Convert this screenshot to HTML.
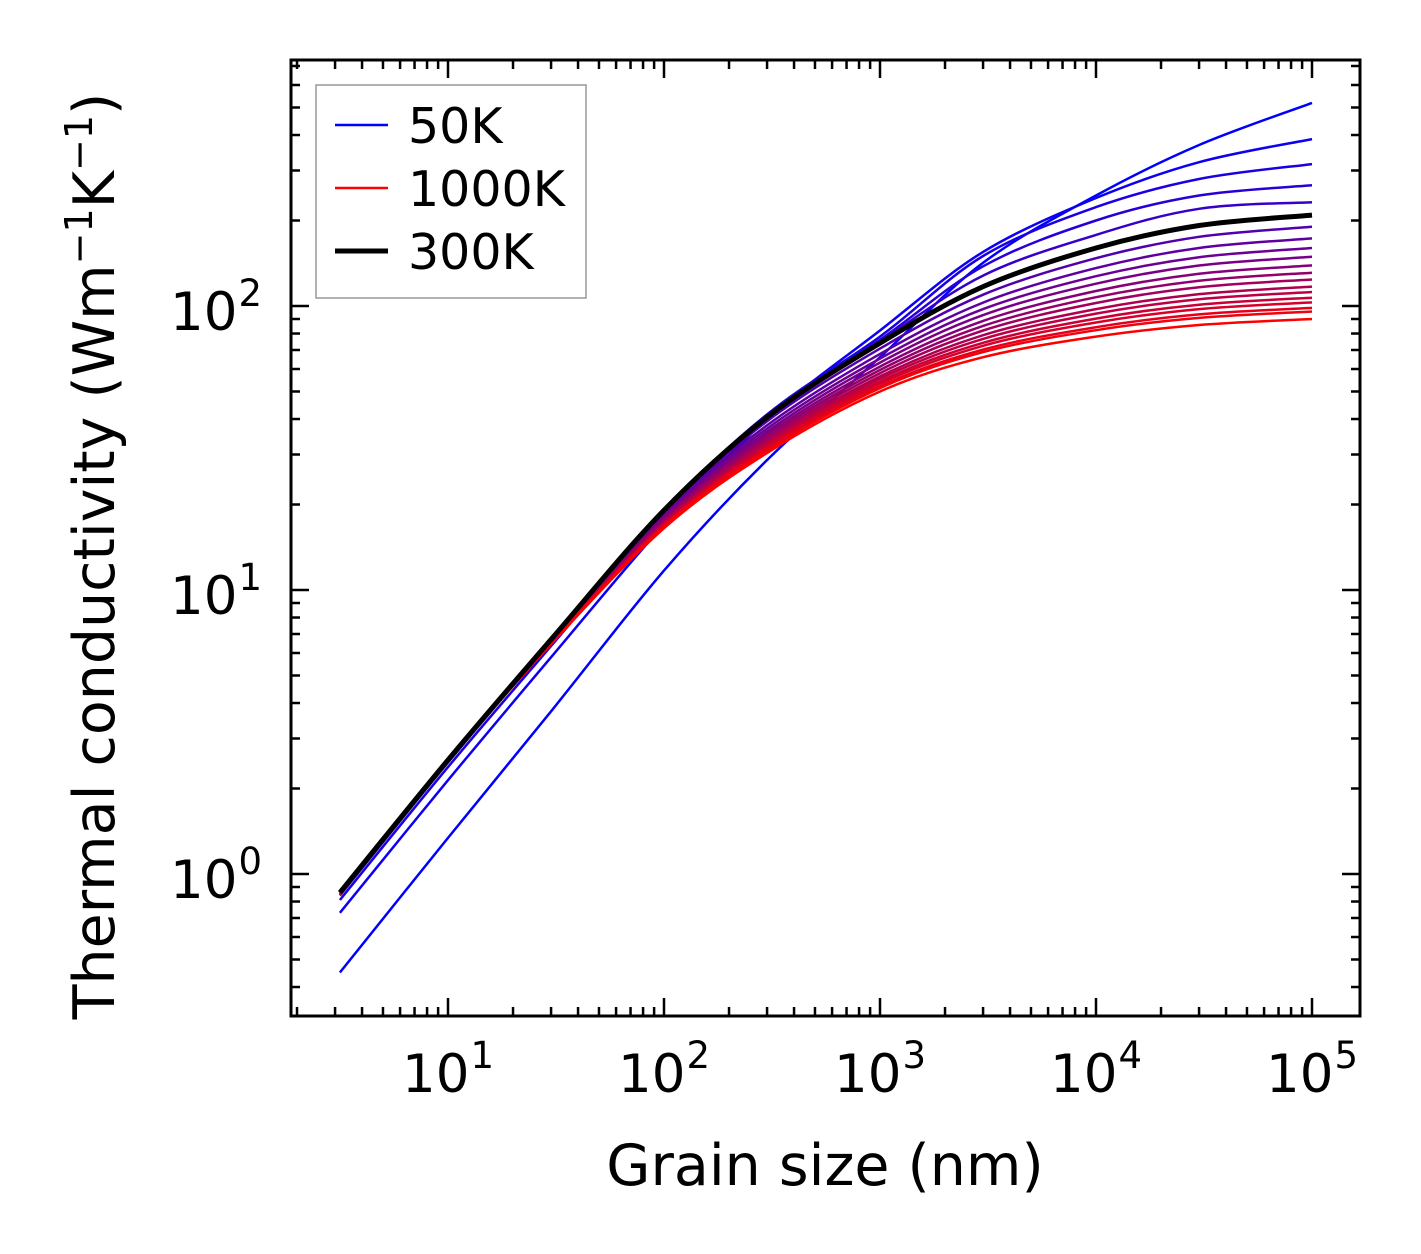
<!DOCTYPE html>
<html><head><meta charset="utf-8"><style>
html,body{margin:0;padding:0;background:#fff}
svg{display:block;font-family:"DejaVu Sans","Liberation Sans",sans-serif}
</style></head><body>
<svg id="chart" width="1421" height="1254" viewBox="0 0 1421 1254" xmlns="http://www.w3.org/2000/svg">
<rect width="1421" height="1254" fill="#fff"/>
<g id="series"></g>
<g id="ticks"></g>
<rect x="291" y="60" width="1069" height="956" fill="none" stroke="#000" stroke-width="3"/>
<g id="labels"></g>
<text x="825" y="1185" font-size="57" text-anchor="middle">Grain size (nm)</text>
<text transform="translate(114,556) rotate(-90)" font-size="57" text-anchor="middle">Thermal conductivity (Wm<tspan font-size="38" dy="-22">−1</tspan><tspan dy="22">K</tspan><tspan font-size="38" dy="-22">−1</tspan><tspan dy="22">)</tspan></text>
<g>
<rect x="316" y="85" width="270" height="213" fill="#fff" stroke="#999" stroke-width="1.5"/>
<line x1="335" y1="125" x2="388" y2="125" stroke="#0000ff" stroke-width="2.5"/>
<text x="408" y="143" font-size="49">50K</text>
<line x1="335" y1="188" x2="388" y2="188" stroke="#ff0000" stroke-width="2.5"/>
<text x="408" y="206" font-size="49">1000K</text>
<line x1="335" y1="251" x2="388" y2="251" stroke="#000" stroke-width="5"/>
<text x="408" y="269" font-size="49">300K</text>
</g>
</svg>
<script>
const grainSizes=[3.16,10,30,100,300,1000,3000,1e4,3e4,1e5];
const temperatures=[50,100,150,200,250,300,350,400,450,500,550,600,650,700,750,800,850,900,950,1000];
const k50=[0.45,1.34,3.74,11.7,28.7,66,142,245,369,519];
const k100=[0.73,2.14,5.8,17,40,82,155,240,321,387];
const k150=[0.81,2.38,6.35,18.4,41.5,78,150,223,280,316];
const k200=[0.84,2.47,6.6,18.9,41.5,76,138,200,245,266];
const k250=[0.86,2.5,6.7,19,41,75,128,178,220,232];
const k300=[0.86,2.52,6.7,19.1,40.6,74,117,160,192,209];
const k350=[0.86,2.52,6.68,18.8,39.3,70.8,109.6,147.3,175.2,190];
const k400=[0.86,2.52,6.66,18.5,38.0,67.8,102.8,136.0,160.1,173];
const k450=[0.86,2.51,6.63,18.2,37.0,65.3,97.5,127.3,148.5,160];
const k500=[0.86,2.51,6.61,18.0,36.1,63.2,92.9,119.8,138.9,149];
const k550=[0.86,2.51,6.59,17.8,35.3,61.2,88.6,112.9,129.9,139];
const k600=[0.85,2.51,6.57,17.6,34.6,59.5,85.1,107.4,122.7,131];
const k650=[0.85,2.51,6.55,17.4,33.9,58.0,82.0,102.5,116.5,124];
const k700=[0.85,2.51,6.53,17.3,33.3,56.5,78.9,97.5,110.1,117];
const k750=[0.85,2.5,6.52,17.1,32.8,55.4,76.6,94.0,105.7,112];
const k800=[0.85,2.5,6.5,17.0,32.3,54.2,74.2,90.3,101.1,107];
const k850=[0.85,2.5,6.49,16.9,31.8,53.2,72.4,87.5,97.5,103];
const k900=[0.85,2.5,6.48,16.8,31.3,52.1,70.2,84.2,93.4,98.5];
const k950=[0.85,2.5,6.47,16.7,31.0,51.4,68.8,82.2,90.8,95.6];
const k1000=[0.85,2.5,6.45,16.5,30.4,50,66,78,85.7,90];
const seriesValues=[k50,k100,k150,k200,k250,k300,k350,k400,k450,k500,k550,k600,k650,k700,k750,k800,k850,k900,k950,k1000];
const xTickLabels=["1","2","3","4","5"];
const yTickLabels=["0","1","2"];

const NS="http://www.w3.org/2000/svg";
const X0=448,XD=216,Y0=874,YD=284;
function xs(v){return X0+(Math.log10(v)-1)*XD;}
function ys(v){return Y0-Math.log10(v)*YD;}
function mk(tag,attrs,parent){const e=document.createElementNS(NS,tag);for(const k in attrs)e.setAttribute(k,attrs[k]);parent.appendChild(e);return e;}

const sg=document.getElementById('series');
function pathFor(vals){
  const p=grainSizes.map((g,i)=>[xs(g),ys(vals[i])]);
  let d="M"+p[0][0].toFixed(1)+","+p[0][1].toFixed(1);
  for(let i=0;i<p.length-1;i++){
    const p0=p[Math.max(0,i-1)],p1=p[i],p2=p[i+1],p3=p[Math.min(p.length-1,i+2)];
    const c1=[p1[0]+(p2[0]-p0[0])/6,p1[1]+(p2[1]-p0[1])/6];
    const c2=[p2[0]-(p3[0]-p1[0])/6,p2[1]-(p3[1]-p1[1])/6];
    d+=" C"+c1[0].toFixed(1)+","+c1[1].toFixed(1)+" "+c2[0].toFixed(1)+","+c2[1].toFixed(1)+" "+p2[0].toFixed(1)+","+p2[1].toFixed(1);
  }
  return d;
}
const blackIdx=temperatures.indexOf(300);
temperatures.forEach((T,i)=>{
  if(i===blackIdx)return;
  const t=(T-50)/950;
  const col="rgb("+Math.round(255*t)+",0,"+Math.round(255*(1-t))+")";
  const el=mk('path',{d:pathFor(seriesValues[i]),fill:"none",stroke:col,"stroke-width":2.5},sg);
  
  
});
{
  const el=mk('path',{d:pathFor(seriesValues[blackIdx]),fill:"none",stroke:"#000","stroke-width":5},sg);
  
  
}

const tg=document.getElementById('ticks');
const L=291,R=1360,T=60,B=1016;
function vtick(x,len){
  const a=mk('line',{x1:x,y1:B,x2:x,y2:B-len,stroke:"#000","stroke-width":2.5},tg);
  
  
  const b=mk('line',{x1:x,y1:T,x2:x,y2:T+len,stroke:"#000","stroke-width":2.5},tg);
  
  
}
function htick(y,len){
  const a=mk('line',{x1:L,y1:y,x2:L+len,y2:y,stroke:"#000","stroke-width":2.5},tg);
  
  
  const b=mk('line',{x1:R,y1:y,x2:R-len,y2:y,stroke:"#000","stroke-width":2.5},tg);
  
  
}
for(let e=0;e<=5;e++){for(let m=1;m<=9;m++){const v=m*Math.pow(10,e);const x=xs(v);if(x<L+1||x>R-1)continue;vtick(x,m===1?18:9);}}
for(let e=-1;e<=2;e++){for(let m=1;m<=9;m++){const v=m*Math.pow(10,e);const y=ys(v);if(y<T+1||y>B-1)continue;htick(y,m===1?18:9);}}

const lg=document.getElementById('labels');
xTickLabels.forEach(s=>{
  const x=xs(Math.pow(10,+s));
  const t=mk('text',{x:x-46,y:1092,"font-size":53},lg);
  t.textContent="10";
  const sp=mk('tspan',{"font-size":37,dy:-24,dx:1},t);sp.textContent=s;
  
  
});
yTickLabels.forEach(s=>{
  const y=ys(Math.pow(10,+s));
  const t=mk('text',{x:262,y:y+24,"font-size":53,"text-anchor":"end"},lg);
  t.textContent="10";
  const sp=mk('tspan',{"font-size":37,dy:-24,dx:1},t);sp.textContent=s;
  
  
});
</script>
</body></html>
